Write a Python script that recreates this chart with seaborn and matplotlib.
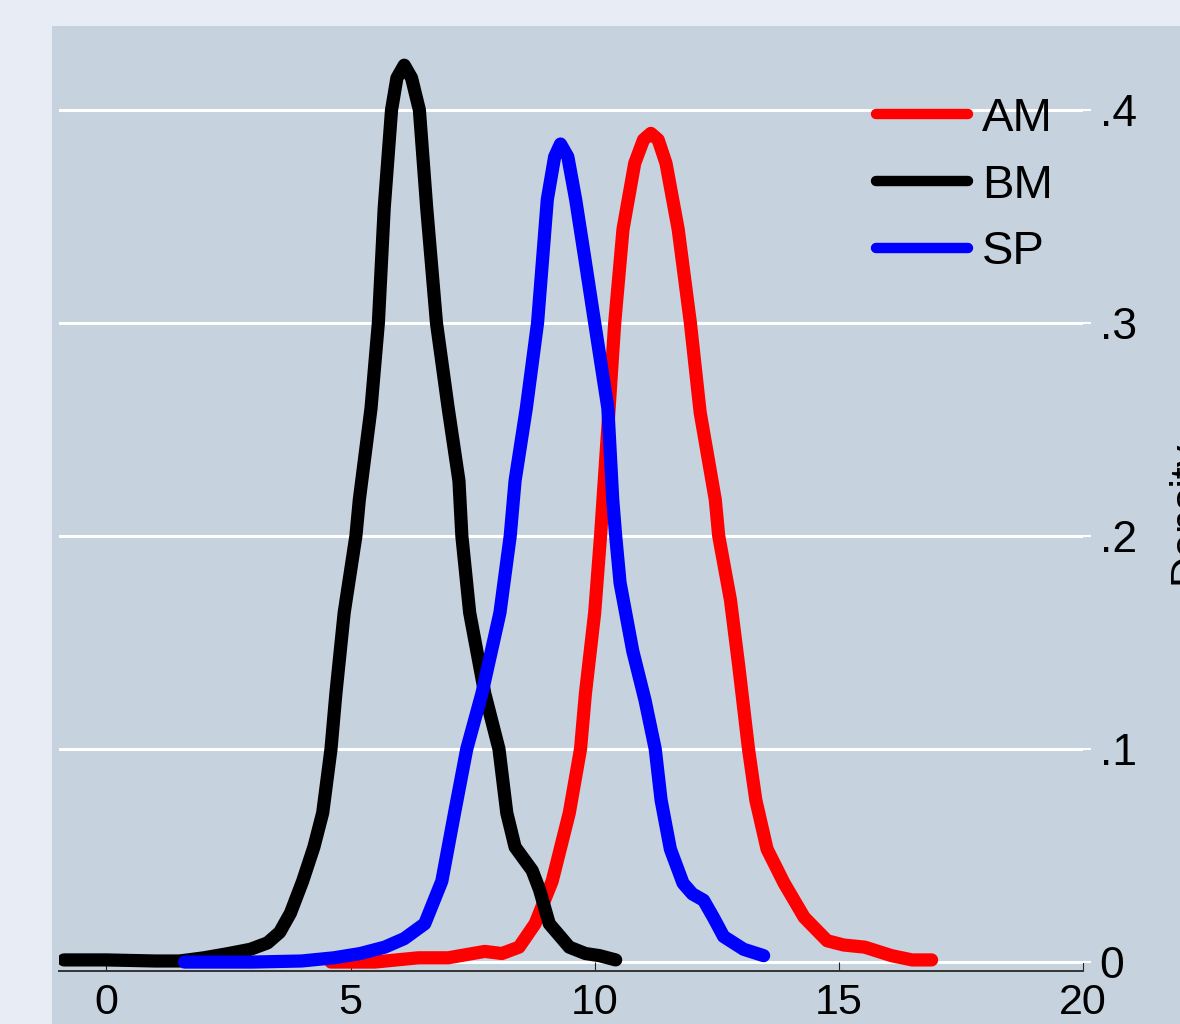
import matplotlib
matplotlib.use('Agg')
import matplotlib.pyplot as plt
from matplotlib.patches import Rectangle
import seaborn as sns
import pandas as pd

# density curves
am_x = [4.6, 5.5, 6.39, 7.0, 7.5, 7.75, 8.1, 8.45, 8.78, 9.13, 9.48, 9.71, 9.81, 10.0, 10.12,
        10.29, 10.41, 10.58, 10.82, 11.0, 11.15, 11.3, 11.46, 11.71, 11.96, 12.16, 12.47, 12.54,
        12.78, 12.95, 13.15, 13.3, 13.53, 13.88, 14.29, 14.76, 15.1, 15.53, 16.08, 16.5, 16.9]
am_y = [0.0, 0.0, 0.002, 0.002, 0.004, 0.005, 0.004, 0.007, 0.018, 0.038, 0.07, 0.1, 0.126, 0.164, 0.2,
        0.258, 0.3, 0.344, 0.375, 0.386, 0.389, 0.386, 0.375, 0.344, 0.3, 0.258, 0.217, 0.2,
        0.17, 0.139, 0.1, 0.076, 0.053, 0.037, 0.021, 0.010, 0.008, 0.007, 0.003, 0.001, 0.001]

bm_x = [-0.87, 0.0, 1.0, 1.5, 2.0, 2.5, 2.95, 3.3, 3.55, 3.77, 4.02, 4.25, 4.43, 4.6, 4.7, 4.87,
        5.11, 5.18, 5.42, 5.57, 5.69, 5.84, 5.95, 6.10, 6.25, 6.41, 6.56, 6.76, 7.0, 7.22, 7.28,
        7.44, 7.75, 8.04, 8.2, 8.37, 8.72, 8.87, 9.07, 9.48, 9.81, 10.1, 10.43]
bm_y = [0.001, 0.001, 0.0005, 0.0005, 0.002, 0.004, 0.006, 0.009, 0.014, 0.023, 0.038, 0.054, 0.07, 0.1, 0.126, 0.164,
        0.2, 0.217, 0.26, 0.3, 0.354, 0.4, 0.415, 0.421, 0.415, 0.4, 0.354, 0.3, 0.26, 0.226, 0.2,
        0.164, 0.126, 0.1, 0.07, 0.054, 0.043, 0.034, 0.018, 0.007, 0.004, 0.003, 0.001]

sp_x = [1.6, 3.0, 4.0, 4.66, 5.2, 5.7, 6.1, 6.52, 6.87, 7.13, 7.38, 7.69, 8.06, 8.27, 8.37, 8.6,
        8.83, 9.03, 9.18, 9.30, 9.45, 9.61, 9.8, 10.0, 10.27, 10.37, 10.43, 10.52, 10.78, 11.03,
        11.24, 11.36, 11.55, 11.81, 12.0, 12.23, 12.43, 12.64, 13.05, 13.46]
sp_y = [0.0, 0.0, 0.0005, 0.002, 0.004, 0.007, 0.011, 0.018, 0.038, 0.07, 0.1, 0.126, 0.164, 0.2, 0.226, 0.26,
        0.3, 0.358, 0.378, 0.384, 0.378, 0.358, 0.33, 0.3, 0.26, 0.217, 0.2, 0.178, 0.146, 0.123,
        0.1, 0.076, 0.053, 0.037, 0.032, 0.029, 0.021, 0.012, 0.006, 0.003]

groups = ['AM', 'BM', 'SP']
colors = ['#ff0000', '#000000', '#0000ff']
y_ticks = [0, 0.1, 0.2, 0.3, 0.4]
y_labels = ['0', '.1', '.2', '.3', '.4']
x_ticks = [0, 5, 10, 15, 20]

df = pd.concat([
    pd.DataFrame({'x': am_x, 'density': am_y, 'group': 'AM'}),
    pd.DataFrame({'x': bm_x, 'density': bm_y, 'group': 'BM'}),
    pd.DataFrame({'x': sp_x, 'density': sp_y, 'group': 'SP'}),
], ignore_index=True)

plt.rcParams['font.family'] = ['Liberation Sans', 'DejaVu Sans']
plt.rcParams['lines.solid_capstyle'] = 'round'
plt.rcParams['lines.solid_joinstyle'] = 'round'

outer = '#e8ecf4'
panel = '#c6d3df'
W, H = 1180, 1024

fig = plt.figure(figsize=(11.8, 10.24), dpi=100)
fig.patch.set_facecolor(outer)
fig.add_artist(Rectangle((52 / W, 0), 1 - 52 / W, (H - 26) / H, transform=fig.transFigure,
                         facecolor=panel, edgecolor='none', zorder=0))
ax = fig.add_axes([59 / W, (H - 971) / H, (1083 - 59) / W, (971 - 26) / H])
ax.set_facecolor(panel)

sns.lineplot(data=df, x='x', y='density', hue='group', hue_order=groups, palette=colors,
             sort=False, estimator=None, units='group', linewidth=9.5, ax=ax)

ax.set_xlim(-0.97, 20.0)
ax.set_ylim(-0.0042, 0.4394)
ax.set_xticks(x_ticks)
ax.set_yticks(y_ticks)
ax.set_yticklabels(y_labels)
ax.yaxis.tick_right()
ax.grid(False)
for yv in y_ticks:
    ax.axhline(yv, color='white', lw=2.2, zorder=0.5)

for s in ['top', 'left', 'right']:
    ax.spines[s].set_visible(False)
ax.spines['bottom'].set_color('#333333')
ax.spines['bottom'].set_linewidth(1.4)

ax.tick_params(axis='x', direction='in', length=6.5, width=0.8, color='#222222',
               labelsize=31, pad=9, labelcolor='black')
ax.tick_params(axis='y', which='both', direction='out', length=6, width=1.5, color='white',
               labelsize=32, pad=6, labelcolor='black', right=True, left=False)
ax.set_xlabel('')
ax.set_ylabel('')

fig.text(1167 / W, 0.5, 'Density', rotation=90, ha='left', va='center', fontsize=31)

leg = ax.legend(loc='upper left', bbox_to_anchor=((876 - 59) / (1083 - 59), 1 - (97 - 26) / (971 - 26)),
                frameon=False, fontsize=34, handlelength=1.95, handletextpad=0.3,
                labelspacing=0.48, borderaxespad=0, borderpad=0)
for line in leg.get_lines():
    line.set_linewidth(7.5)
    line.set_solid_capstyle('round')

fig.savefig('out.png', dpi=100, facecolor=outer)
